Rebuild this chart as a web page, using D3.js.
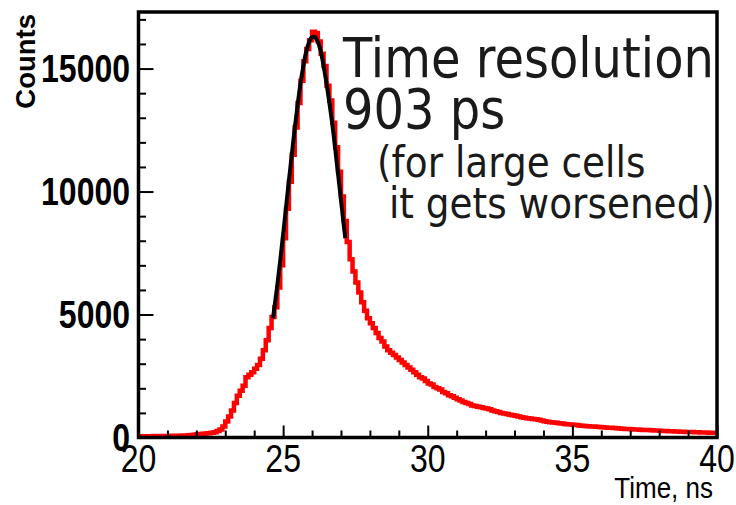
<!DOCTYPE html>
<html><head><meta charset="utf-8">
<script src="https://cdn.jsdelivr.net/npm/d3@7"></script>
<style>body{margin:0;background:#fff}svg{display:block}</style>
</head><body><svg id="c" width="736" height="505"></svg>
<script>
// ---- data ----
const binStart = 20, binWidth = 0.1;
const counts = [
 50,50,55,50,55,60,55,60,65,60,
 65,70,65,75,70,80,85,90,100,110,
 130,140,150,160,170,190,210,260,330,450,
 650,850,1100,1400,1700,1900,2100,2450,2550,2650,
 2800,2950,3200,3550,3950,4450,4900,5300,6100,7000,
 8100,9300,10400,11500,12600,13600,14500,15300,15800,16150,
 16500,16450,16100,15600,15100,14300,13700,12800,11800,10800,
 9800,8800,7950,7250,6750,6300,5900,5500,5150,4850,
 4650,4450,4250,4050,3900,3700,3550,3450,3350,3250,
 3150,3050,2950,2850,2750,2650,2550,2450,2400,2300,
 2200,2150,2050,2000,1950,1850,1800,1720,1680,1620,
 1560,1500,1440,1400,1360,1300,1280,1250,1230,1200,
 1180,1150,1100,1070,1040,1000,980,960,930,900,
 880,850,820,800,780,770,750,740,720,690,
 660,640,620,610,600,580,570,550,540,530,
 520,510,490,480,470,460,450,445,440,430,
 420,410,400,395,385,375,370,360,350,345,
 340,330,325,320,310,305,300,290,285,280,
 270,265,260,255,250,245,240,235,230,228,
 225,220,215,212,208,205,200,198,195,190
];
const fitTime = [24.65,24.7,24.8,24.9,25.0,25.1,25.2,25.3,25.4,25.5,25.6,25.7,25.8,25.9,26.0,26.1,26.2,26.3,26.4,26.5,26.6,26.7,26.8,26.9,27.0,27.1,27.15];
const fitCounts = [4850,5300,6200,7200,8250,9350,10450,11500,12550,13500,14400,15100,15700,16080,16280,16280,16080,15700,15100,14400,13600,12750,11750,10700,9650,8600,8100];
const xMajorTicks = [20,25,30,35,40];
const xMinorTicks = [21,22,23,24,26,27,28,29,31,32,33,34,36,37,38,39];
const yMajorTicks = [0,5000,10000,15000];
const yMinorTicks = [1000,2000,3000,4000,6000,7000,8000,9000,11000,12000,13000,14000,16000,17000];
const xTitle = "Time, ns";
const yTitle = "Counts";
const noteLines = ["Time resolution","903 ps","(for large cells"," it gets worsened)"];

// ---- layout ----
const L = 138.5, R = 717, T = 12, B = 437.5;
const SY = 1.2;
const svg = d3.select("#c");
const x = d3.scaleLinear().domain([20,40]).range([L,R]);
const y = d3.scaleLinear().domain([0,17300]).range([B,T]);

svg.append("defs").append("clipPath").attr("id","clip")
  .append("rect").attr("x",L).attr("y",T).attr("width",R-L).attr("height",B-T);

// histogram
const pts = counts.map((c,i)=>[binStart+i*binWidth, c]);
pts.push([binStart+counts.length*binWidth, counts[counts.length-1]]);
svg.append("path").attr("clip-path","url(#clip)")
  .attr("d", d3.line().x(d=>x(d[0])).y(d=>y(d[1])).curve(d3.curveStepAfter)(pts))
  .attr("fill","none").attr("stroke","#ff0000").attr("stroke-width",4.5);

// fit
svg.append("path").attr("clip-path","url(#clip)")
  .attr("d", d3.line().x((d,i)=>x(fitTime[i])).y(d=>y(d)).curve(d3.curveCatmullRom)(fitCounts))
  .attr("fill","none").attr("stroke","#000").attr("stroke-width",4);

// axes ticks (inside)
const yAxMaj = svg.append("g").attr("transform",`translate(${L},0)`)
  .call(d3.axisLeft(y).tickValues(yMajorTicks).tickSize(-15).tickFormat(""));
const yAxMin = svg.append("g").attr("transform",`translate(${L},0)`)
  .call(d3.axisLeft(y).tickValues(yMinorTicks).tickSize(-7.5).tickFormat(""));
const xAxMaj = svg.append("g").attr("transform",`translate(0,${B})`)
  .call(d3.axisBottom(x).tickValues(xMajorTicks).tickSize(-12).tickFormat(""));
const xAxMin = svg.append("g").attr("transform",`translate(0,${B})`)
  .call(d3.axisBottom(x).tickValues(xMinorTicks).tickSize(-7).tickFormat(""));
[yAxMaj,yAxMin,xAxMaj,xAxMin].forEach(g=>{
  g.select(".domain").remove();
  g.selectAll("line").attr("stroke","#000").attr("stroke-width",2);
});

// frame
svg.append("rect").attr("x",L).attr("y",T).attr("width",R-L).attr("height",B-T)
  .attr("fill","none").attr("stroke","#000").attr("stroke-width",3.5);

// tick labels
svg.append("g").selectAll("text").data(yMajorTicks).join("text")
  .attr("transform",d=>`translate(130,${y(d)}) scale(1,${SY})`)
  .attr("dy","0.36em").attr("text-anchor","end")
  .attr("font-family","'Liberation Sans',Arial,sans-serif").attr("font-weight","bold")
  .attr("font-size",32).attr("fill","#000").text(d=>d3.format("d")(d));
svg.append("g").selectAll("text").data(xMajorTicks).join("text")
  .attr("transform",d=>`translate(${x(d)},472) scale(1,${SY})`)
  .attr("text-anchor","middle")
  .attr("font-family","'Liberation Sans',Arial,sans-serif")
  .attr("font-size",32).attr("fill","#000").text(d=>d);

// titles
svg.append("text").attr("transform",`translate(713,498) scale(1,1.1)`)
  .attr("text-anchor","end").attr("font-family","'Liberation Sans',Arial,sans-serif")
  .attr("font-size",26).attr("fill","#000").text(xTitle);
svg.append("text").attr("transform",`translate(35,14) rotate(-90)`)
  .attr("text-anchor","end").attr("font-family","'Liberation Sans',Arial,sans-serif")
  .attr("font-weight","bold").attr("font-size",27.5).attr("fill","#000").text(yTitle);

// annotation
const notePos = [[343,77,48],[343,128,48],[377,177,37.4],[377,218,37.4]];
svg.append("g").selectAll("text").data(noteLines).join("text")
  .attr("transform",(d,i)=>`translate(${notePos[i][0]},${notePos[i][1]}) scale(1,1.15)`)
  .attr("font-family","'DejaVu Sans',sans-serif").attr("font-size",(d,i)=>notePos[i][2])
  .attr("fill","#1a1a1a").attr("xml:space","preserve").style("white-space","pre").text(d=>d);
</script></body></html>
